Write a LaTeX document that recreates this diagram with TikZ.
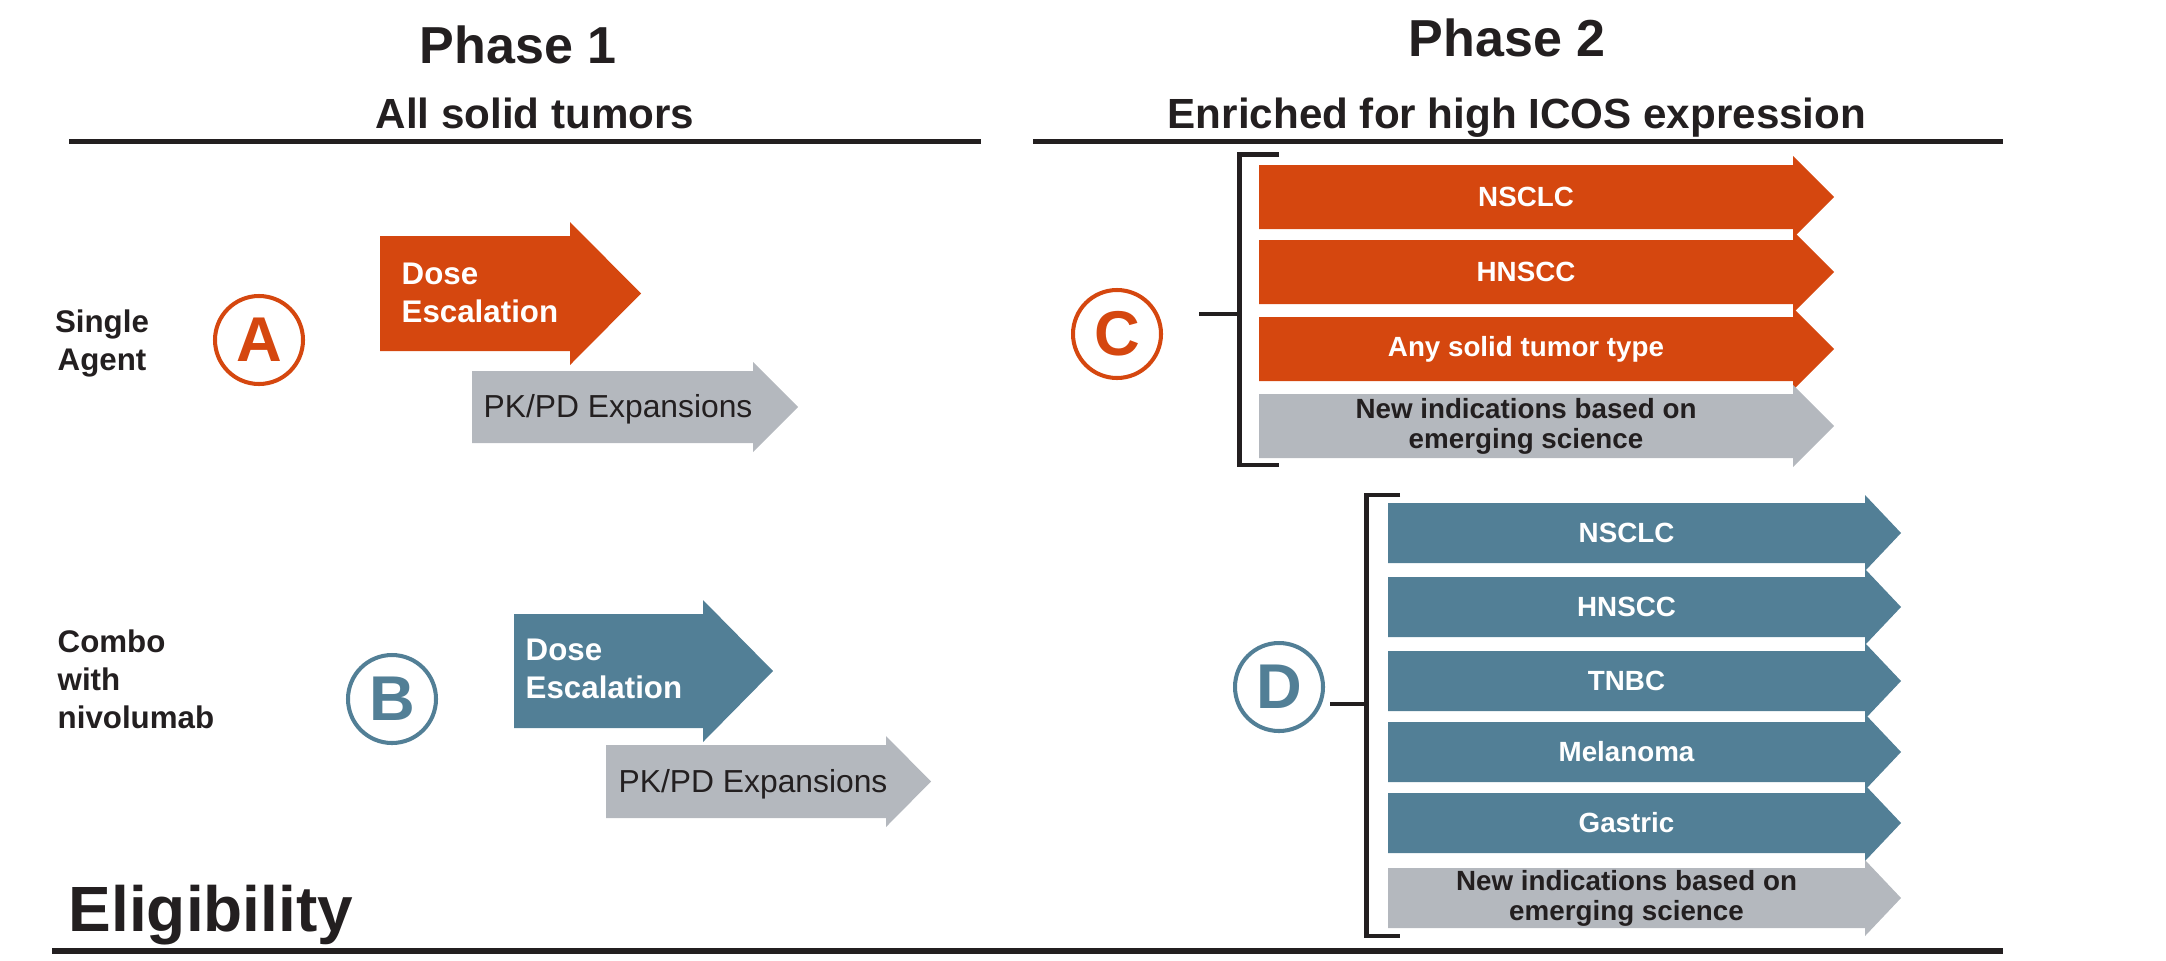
\documentclass[tikz,border=0pt]{standalone}
\usepackage{fontspec}
\setmainfont{Liberation Sans}
\definecolor{rust}{HTML}{D5470F}
\definecolor{slate}{HTML}{527F96}
\definecolor{mist}{HTML}{B4B8BE}
\definecolor{ink}{HTML}{231F20}

\begin{document}
\begin{tikzpicture}[scale=1,
  rule/.style={ink,line width=1.45pt},
  brace/.style={ink,line width=1.2pt},
  badge/.style={circle,draw,line width=1.15pt,minimum size=0.88cm,inner sep=0pt,font=\fontsize{18}{18}\selectfont\bfseries},
  lbl/.style={ink,inner sep=0pt,font=\fontsize{8.9}{10.8}\selectfont\bfseries},
  pktxt/.style={ink,inner sep=0pt,anchor=base west,font=\fontsize{9.05}{10}\selectfont},
  bartxt/.style={inner sep=0pt,align=center,font=\fontsize{7.9}{8.5}\selectfont\bfseries}]
  \useasboundingbox (0,0) rectangle (21.66,9.60);

  % headings
  \node[ink,anchor=base,inner sep=0pt,font=\fontsize{14.8}{16}\selectfont\bfseries] (ph1) at (5.18,8.97) {Phase 1};
  \node[ink,anchor=base,inner sep=0pt,font=\fontsize{14.8}{16}\selectfont\bfseries] (ph2) at (15.07,9.04) {Phase 2};
  \node[ink,anchor=base,inner sep=0pt,font=\fontsize{12}{14}\selectfont\bfseries] (sub1) at (5.35,8.32) {All solid tumors};
  \node[ink,anchor=base,inner sep=0pt,font=\fontsize{12}{14}\selectfont\bfseries] (sub2) at (15.17,8.32) {Enriched for high ICOS expression};
  \draw[rule] (0.69,8.185) -- (9.81,8.185);
  \draw[rule] (10.33,8.185) -- (20.03,8.185);
  \draw[rule] (0.52,0.09) -- (20.03,0.09);
  \node[ink,anchor=base west,inner sep=0pt,font=\fontsize{18.2}{20}\selectfont\bfseries] (elig) at (0.68,0.29) {Eligibility};

  % phase 1 arms
  \foreach \xa/\xb/\xt/\yc/\h/\e/\col in {3.80/5.70/6.41/6.665/0.575/0.14/rust,
      4.72/7.53/7.98/5.53/0.36/0.09/mist,
      5.14/7.03/7.73/2.89/0.57/0.14/slate,
      6.06/8.86/9.31/1.785/0.365/0.09/mist}
    \fill[\col] (\xa,\yc-\h) -- (\xa,\yc+\h) -- (\xb,\yc+\h) -- (\xb,\yc+\h+\e)
      -- (\xt,\yc) -- (\xb,\yc-\h-\e) -- (\xb,\yc-\h) -- cycle;
  \node[lbl,align=center,anchor=base] (single) at (1.02,5.90) {Single\\Agent};
  \node[lbl,align=left,anchor=base west] (combo) at (0.57,2.32) {Combo\\with\\nivolumab};
  \node[badge,draw=rust,text=rust] (ba) at (2.59,6.20) {A};
  \node[badge,draw=slate,text=slate] (bb) at (3.92,2.61) {B};
  \node[lbl,text=white,align=left,anchor=base west] (dose1) at (4.01,6.38) {Dose\\Escalation};
  \node[lbl,text=white,align=left,anchor=base west] (dose2) at (5.25,2.62) {Dose\\Escalation};
  \node[pktxt] (pk1) at (4.83,5.43) {PK/PD Expansions};
  \node[pktxt] (pk2) at (6.18,1.68) {PK/PD Expansions};

  % phase 2, arm C
  \node[badge,draw=rust,text=rust] (bc) at (11.17,6.26) {C};
  \draw[brace] (12.79,8.055) -- (12.395,8.055) -- (12.395,4.95) -- (12.79,4.95);
  \coordinate (cstub) at (11.99,6.46);
  \coordinate (cjoin) at (12.395,6.46);
  \draw[brace] (cstub) -- (cjoin);
  \foreach \yc/\col/\txt/\tc [count=\i] in {7.63/rust/NSCLC/white,
      6.88/rust/HNSCC/white,
      6.11/rust/Any solid tumor type/white,
      5.34/mist/{New indications based on\\emerging science}/ink}
  {
    \fill[\col] (12.59,\yc-0.32) -- (12.59,\yc+0.32) -- (17.93,\yc+0.32) -- (17.93,\yc+0.41)
      -- (18.34,\yc) -- (17.93,\yc-0.41) -- (17.93,\yc-0.32) -- cycle;
    \node[bartxt,text=\tc] (c\i) at (15.26,\yc) {\txt};
  }

  % phase 2, arm D
  \node[badge,draw=slate,text=slate] (bd) at (12.79,2.73) {D};
  \draw[brace] (14.00,4.65) -- (13.665,4.65) -- (13.665,0.24) -- (14.00,0.24);
  \coordinate (dstub) at (13.30,2.56);
  \coordinate (djoin) at (13.665,2.56);
  \draw[brace] (dstub) -- (djoin);
  \foreach \yc/\col/\txt/\tc [count=\i] in {4.27/slate/NSCLC/white,
      3.53/slate/HNSCC/white,
      2.79/slate/TNBC/white,
      2.08/slate/Melanoma/white,
      1.37/slate/Gastric/white,
      0.62/mist/{New indications based on\\emerging science}/ink}
  {
    \fill[\col] (13.88,\yc-0.30) -- (13.88,\yc+0.30) -- (18.65,\yc+0.30) -- (18.65,\yc+0.38)
      -- (19.01,\yc) -- (18.65,\yc-0.38) -- (18.65,\yc-0.30) -- cycle;
    \node[bartxt,text=\tc] (d\i) at (16.265,\yc) {\txt};
  }
\end{tikzpicture}
\end{document}
